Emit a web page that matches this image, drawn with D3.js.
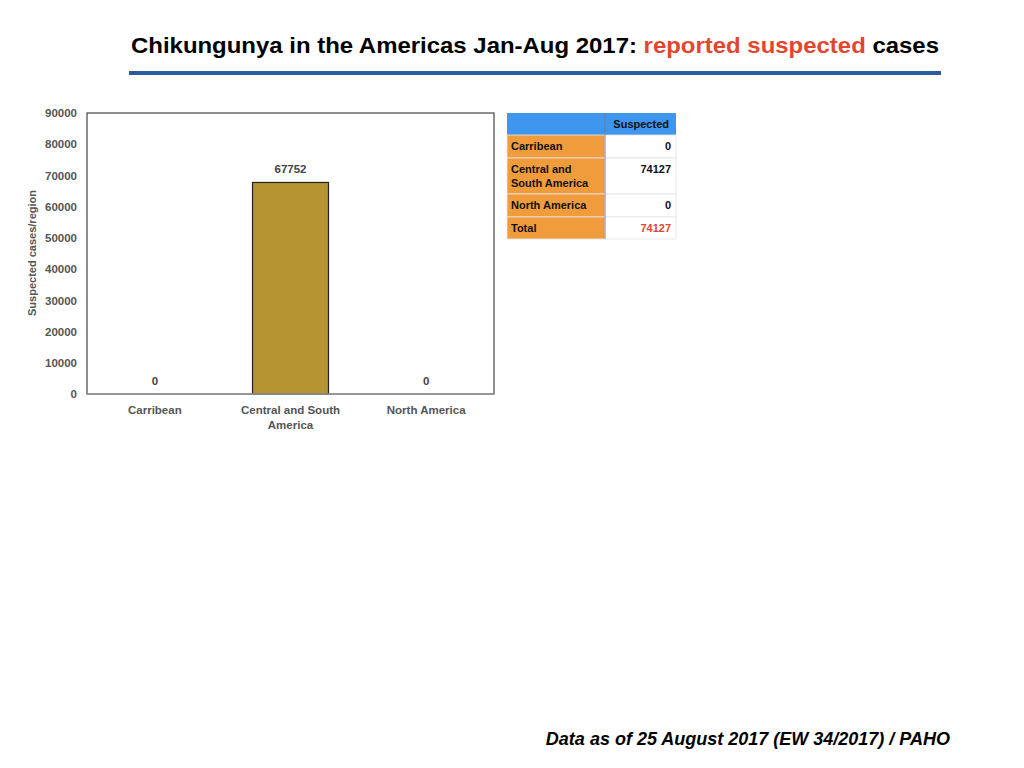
<!DOCTYPE html>
<html lang="en">
<head>
  <meta charset="UTF-8">
  <title>Chikungunya in the Americas Jan-Aug 2017</title>
  <script src="https://d3js.org/d3.v7.min.js"></script>
  <style>
    body { margin: 0; background: #fff; font-family: "Liberation Sans", Arial, sans-serif; }
    svg { display: block; }
  </style>
</head>
<body>
<svg width="1024" height="768"></svg>

<script>
  // Données
  const regions = ["Carribean", "Central and South America", "North America"];
  const barValues = [0, 67752, 0];
  const yTicks = [0, 10000, 20000, 30000, 40000, 50000, 60000, 70000, 80000, 90000];
  const tableRows = ["Carribean", "Central and South America", "North America", "Total"];
  const tableValues = [0, 74127, 0, 74127];

  const svg = d3.select("svg");

  // Titre
  const title = svg.append("text")
    .attr("x", 535).attr("y", 53)
    .attr("text-anchor", "middle")
    .style("font-size", "22px").style("font-weight", "bold")
    .attr("textLength", 808).attr("lengthAdjust", "spacingAndGlyphs");
  title.append("tspan").text("Chikungunya in the Americas Jan-Aug 2017: ").attr("fill", "#000");
  title.append("tspan").text("reported suspected").attr("fill", "#e2462f");
  title.append("tspan").text(" cases").attr("fill", "#000");

  svg.append("rect")
    .attr("x", 129).attr("y", 71).attr("width", 812).attr("height", 4)
    .attr("fill", "#2c5a9a");

  // Graphique
  const margin = {top: 113, left: 87};
  const width = 407, height = 281;
  const g = svg.append("g").attr("transform", `translate(${margin.left},${margin.top})`);

  const x = d3.scaleBand().domain(regions).range([0, width]).paddingInner(0.44).paddingOuter(0.22);
  const y = d3.scaleLinear().domain([0, 90000]).range([height, 0]);

  // Cadre
  g.append("rect")
    .attr("width", width).attr("height", height)
    .attr("fill", "none").attr("stroke", "#444").attr("stroke-width", 1.2);

  // Axe Y (sans trait)
  const yAxis = g.append("g")
    .call(d3.axisLeft(y).tickValues(yTicks).tickSize(0).tickPadding(10).tickFormat(d3.format("d")));
  yAxis.select(".domain").remove();
  yAxis.selectAll("text")
    .style("font-size", "11.5px").style("font-weight", "bold")
    .style("font-family", "'Liberation Sans', Arial, sans-serif")
    .attr("fill", "#555");

  // Barres
  g.selectAll("rect.bar")
    .data(regions.map((r, i) => ({ region: r, value: barValues[i] })))
    .join("rect")
      .attr("class", "bar")
      .attr("x", d => x(d.region))
      .attr("y", d => y(d.value))
      .attr("width", x.bandwidth())
      .attr("height", d => height - y(d.value))
      .attr("fill", "#b59431")
      .attr("stroke", d => d.value > 0 ? "#222" : "none")
      .attr("stroke-width", 1.2);

  // Ligne de base
  g.append("line")
    .attr("x1", 0).attr("x2", width)
    .attr("y1", height).attr("y2", height)
    .attr("stroke", "#999").attr("stroke-width", 1.5);

  // Étiquettes de valeur
  g.selectAll("text.val")
    .data(regions.map((r, i) => ({ region: r, value: barValues[i] })))
    .join("text")
      .attr("class", "val")
      .attr("x", d => x(d.region) + x.bandwidth() / 2)
      .attr("y", d => y(d.value) - 9)
      .attr("text-anchor", "middle")
      .style("font-size", "11.5px").style("font-weight", "bold")
      .attr("fill", "#444")
      .text(d => d.value);

  // Étiquettes des catégories
  const catLines = {
    "Carribean": ["Carribean"],
    "Central and South America": ["Central and South", "America"],
    "North America": ["North America"]
  };
  regions.forEach(r => {
    const t = g.append("text")
      .attr("x", x(r) + x.bandwidth() / 2)
      .attr("y", height + 20)
      .attr("text-anchor", "middle")
      .style("font-size", "11.5px").style("font-weight", "bold")
      .attr("fill", "#555");
    catLines[r].forEach((line, i) => {
      t.append("tspan")
        .attr("x", x(r) + x.bandwidth() / 2)
        .attr("dy", i === 0 ? 0 : 15)
        .text(line);
    });
  });

  // Titre axe Y
  svg.append("text")
    .attr("transform", "translate(36,253) rotate(-90)")
    .attr("text-anchor", "middle")
    .style("font-size", "11px").style("font-weight", "bold")
    .attr("fill", "#555")
    .text("Suspected cases/region");

  // Tableau
  const tab = svg.append("g").attr("transform", "translate(507,113)");
  const col1 = 98, col2 = 71;
  const rowH = [23, 36, 23, 22];
  const rowLabels = {
    "Carribean": ["Carribean"],
    "Central and South America": ["Central and", "South America"],
    "North America": ["North America"],
    "Total": ["Total"]
  };

  tab.append("rect").attr("width", col1 + col2).attr("height", 22).attr("fill", "#3f96ef");
  tab.append("text")
    .attr("x", col1 + col2 - 7).attr("y", 15)
    .attr("text-anchor", "end")
    .style("font-size", "11px").style("font-weight", "bold")
    .attr("fill", "#111")
    .text("Suspected");

  let yy = 22;
  tableRows.forEach((r, i) => {
    const h = rowH[i];
    tab.append("rect").attr("x", 0).attr("y", yy).attr("width", col1).attr("height", h)
      .attr("fill", "#f09c3c").attr("stroke", "#e8e8e8").attr("stroke-width", 0.8);
    tab.append("rect").attr("x", col1).attr("y", yy).attr("width", col2).attr("height", h)
      .attr("fill", "#fff").attr("stroke", "#e4e4e4").attr("stroke-width", 0.8);
    const lbl = tab.append("text")
      .attr("x", 4).attr("y", yy + 15)
      .style("font-size", "11px").style("font-weight", "bold")
      .attr("fill", "#111");
    rowLabels[r].forEach((line, j) => {
      lbl.append("tspan").attr("x", 4).attr("dy", j === 0 ? 0 : 14).text(line);
    });
    tab.append("text")
      .attr("x", col1 + col2 - 5).attr("y", yy + 15)
      .attr("text-anchor", "end")
      .style("font-size", "11px").style("font-weight", "bold")
      .attr("fill", r === "Total" ? "#e2462f" : "#111")
      .text(tableValues[i]);
    yy += h;
  });
  // séparation colonnes
  tab.append("line")
    .attr("x1", col1).attr("x2", col1).attr("y1", 0).attr("y2", yy)
    .attr("stroke", "#777").attr("stroke-width", 0.8);

  // Source
  svg.append("text")
    .attr("x", 950).attr("y", 745)
    .attr("text-anchor", "end")
    .style("font-size", "18px").style("font-weight", "bold").style("font-style", "italic")
    .attr("fill", "#000")
    .text("Data as of 25 August 2017 (EW 34/2017) / PAHO");
</script>
</body>
</html>
